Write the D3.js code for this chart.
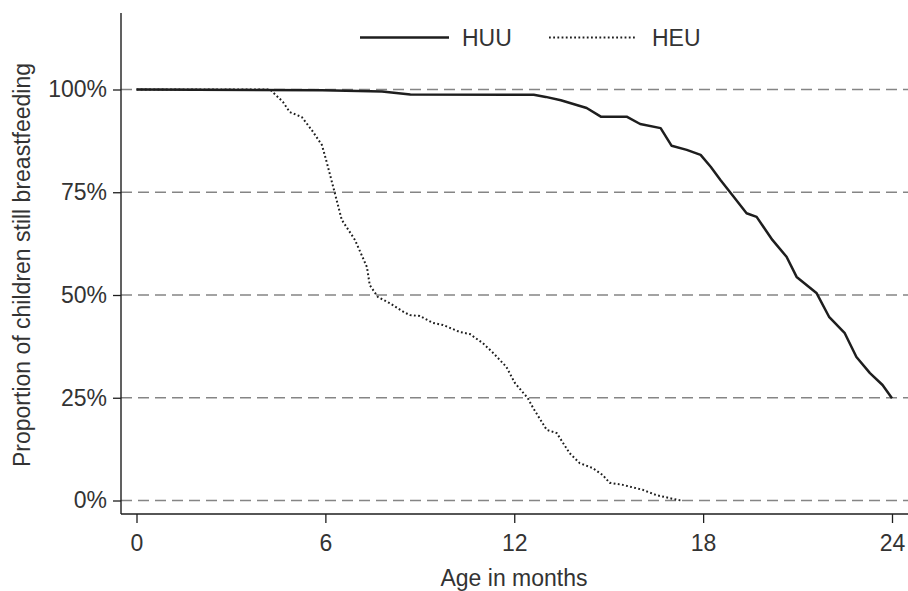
<!DOCTYPE html>
<html>
<head>
<meta charset="utf-8">
<script src="https://cdn.jsdelivr.net/npm/d3@7"></script>
<style>
  html, body { margin: 0; padding: 0; background: #fff; }
  svg { display: block; font-family: "Liberation Sans", Arial, sans-serif; }
</style>
</head>
<body>
<svg id="chart" width="908" height="591"></svg>
<script>
// Kaplan-Meier style curves: proportion still breastfeeding by age

// --- data ---
const huuMonths = [0, 5.9, 7.8, 8.7, 12.62, 13.0, 13.48, 14.3, 14.75, 15.57, 16.0, 16.65, 17.0, 17.48, 17.92,
  18.24, 18.55, 18.97, 19.38, 19.7, 20.2, 20.65, 20.97, 21.6, 22.0, 22.5, 22.87, 23.3, 23.7, 24.0];
const huuSurv = [1.0, 0.998, 0.995, 0.988, 0.987, 0.982, 0.974, 0.955, 0.934, 0.934, 0.916, 0.906, 0.863, 0.853, 0.841,
  0.812, 0.780, 0.739, 0.699, 0.690, 0.634, 0.593, 0.544, 0.505, 0.447, 0.407, 0.349, 0.310, 0.281, 0.249];

const heuMonths = [0, 4.24, 4.65, 4.87, 5.25, 5.57, 5.89, 6.05, 6.30, 6.52, 6.94, 7.32, 7.41, 7.67, 8.05, 8.46,
  8.68, 9.0, 9.42, 9.74, 10.27, 10.59, 11.0, 11.33, 11.75, 12.02, 12.43, 12.6, 13.03, 13.35, 13.76, 14.08,
  14.49, 14.81, 15.03, 15.45, 16.08, 16.52, 17.16, 17.3];
const heuSurv = [1.0, 1.0, 0.970, 0.945, 0.933, 0.901, 0.865, 0.821, 0.748, 0.683, 0.634, 0.568, 0.524, 0.495, 0.480, 0.460,
  0.451, 0.449, 0.432, 0.427, 0.410, 0.405, 0.383, 0.359, 0.325, 0.286, 0.249, 0.225, 0.172, 0.164, 0.115, 0.091,
  0.079, 0.062, 0.043, 0.038, 0.026, 0.013, 0.002, 0];

const xTicks = [0, 6, 12, 18, 24];
const yTicks = [0, 0.25, 0.5, 0.75, 1];
const seriesNames = ['HUU', 'HEU'];

// --- layout ---
const W = 908, H = 591;
const axisX = 121, axisY = 514, axisTop = 13;
const ink = '#1e1e1e';
const fs = '23px';

const svg = d3.select('#chart');

const x = d3.scaleLinear().domain([0, 24]).range([136.5, 892]);
const y = d3.scaleLinear().domain([0, 1]).range([500.5, 89.5]);

// dashed gridlines
svg.append('g').selectAll('line')
  .data(yTicks).enter().append('line')
  .attr('x1', axisX).attr('x2', W)
  .attr('y1', d => y(d)).attr('y2', d => y(d))
  .attr('stroke', '#858585').attr('stroke-width', 1.5)
  .attr('stroke-dasharray', '11,6');

// axes
const yAxis = svg.append('g').attr('transform', `translate(${axisX},0)`)
  .call(d3.axisLeft(y).tickValues(yTicks).tickSize(8).tickSizeOuter(0).tickFormat(d3.format('.0%')));
const xAxis = svg.append('g').attr('transform', `translate(0,${axisY})`)
  .call(d3.axisBottom(x).tickValues(xTicks).tickSize(9).tickSizeOuter(0));
[yAxis, xAxis].forEach(g => {
  g.select('.domain').remove();
  g.selectAll('.tick line').attr('stroke', ink).attr('stroke-width', 1.3);
  g.selectAll('.tick text').attr('fill', '#333').attr('font-size', fs).attr('font-family', 'Liberation Sans, Arial, sans-serif');
});
yAxis.selectAll('.tick text').attr('x', -14);
xAxis.selectAll('.tick text').attr('dy', '0').attr('y', 37);

svg.append('line').attr('x1', axisX).attr('x2', axisX).attr('y1', axisTop).attr('y2', axisY)
  .attr('stroke', ink).attr('stroke-width', 1.4);
svg.append('line').attr('x1', axisX).attr('x2', W).attr('y1', axisY).attr('y2', axisY)
  .attr('stroke', ink).attr('stroke-width', 1.4);

// curves
const line = d3.line().x(d => x(d[0])).y(d => y(d[1]));
const huu = huuMonths.map((m, i) => [m, huuSurv[i]]);
const heu = heuMonths.map((m, i) => [m, heuSurv[i]]);

svg.append('path').datum(heu).attr('d', line)
  .attr('fill', 'none').attr('stroke', ink).attr('stroke-width', 2)
  .attr('stroke-dasharray', '1.8,2.4');
svg.append('path').datum(huu).attr('d', line)
  .attr('fill', 'none').attr('stroke', ink).attr('stroke-width', 2.5)
  .attr('stroke-linejoin', 'round');

// legend
const leg = svg.append('g');
leg.append('line').attr('x1', 360).attr('x2', 449).attr('y1', 37.5).attr('y2', 37.5)
  .attr('stroke', ink).attr('stroke-width', 2.4);
leg.append('text').attr('x', 462).attr('y', 46).attr('font-size', fs).attr('fill', '#333').text(seriesNames[0]);
leg.append('line').attr('x1', 549).attr('x2', 637).attr('y1', 37.5).attr('y2', 37.5)
  .attr('stroke', ink).attr('stroke-width', 2).attr('stroke-dasharray', '1.8,2.4');
leg.append('text').attr('x', 652).attr('y', 46).attr('font-size', fs).attr('fill', '#333').text(seriesNames[1]);

// axis titles
svg.append('text').attr('x', 514).attr('y', 586).attr('text-anchor', 'middle')
  .attr('font-size', fs).attr('fill', '#333').text('Age in months');
svg.append('text').attr('transform', 'translate(30,265) rotate(-90)').attr('text-anchor', 'middle')
  .attr('font-size', fs).attr('fill', '#333').text('Proportion of children still breastfeeding');
</script>
</body>
</html>
